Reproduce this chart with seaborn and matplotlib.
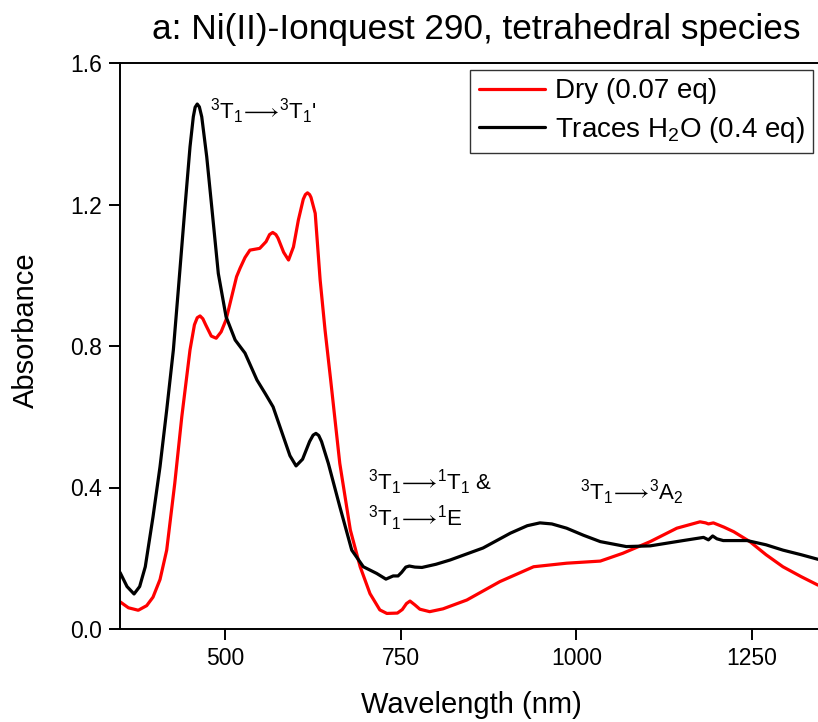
import matplotlib
matplotlib.use("Agg")
import matplotlib.pyplot as plt
import seaborn as sns
import pandas as pd

# ---- data ----
dry_wavelength = [350, 362, 376, 388, 397, 407, 416.5, 428, 438, 449.7, 456, 460, 464, 468, 472,
                  480, 487, 494, 501, 516, 521, 528, 535, 549, 558, 563, 567.5, 572, 575, 583,
                  590, 597, 604, 611, 614, 617, 620, 622, 628, 635, 642, 650, 663, 678, 692,
                  706, 720, 730, 745, 752, 758, 763, 770, 777, 791, 810, 844, 891, 939, 986,
                  1034, 1066, 1105, 1143, 1176, 1184, 1188, 1195, 1210, 1224, 1247, 1270, 1294,
                  1320, 1344]
dry_absorbance = [0.077, 0.060, 0.053, 0.066, 0.090, 0.140, 0.223, 0.412, 0.600, 0.789, 0.860,
                  0.880, 0.885, 0.877, 0.860, 0.828, 0.822, 0.840, 0.874, 0.996, 1.020, 1.050,
                  1.071, 1.076, 1.095, 1.115, 1.121, 1.115, 1.105, 1.065, 1.043, 1.080, 1.156,
                  1.215, 1.228, 1.233, 1.228, 1.220, 1.175, 0.987, 0.845, 0.704, 0.468, 0.280,
                  0.176, 0.100, 0.054, 0.044, 0.045, 0.055, 0.072, 0.079, 0.068, 0.056, 0.049,
                  0.057, 0.082, 0.134, 0.176, 0.186, 0.192, 0.214, 0.247, 0.285, 0.303, 0.300,
                  0.297, 0.300, 0.288, 0.275, 0.247, 0.210, 0.176, 0.148, 0.124]

wet_wavelength = [350, 360, 370, 378, 386, 397, 407, 416.5, 426, 433, 442.6, 449.7, 454.4, 457,
                  460, 463, 466.4, 473.5, 480.6, 490, 501, 514, 528, 545, 557, 568, 582.6, 592,
                  600.7, 610, 620, 625, 629, 633, 637, 646.7, 663, 680, 696.5, 715.6, 728.7, 739,
                  746, 751, 757, 762, 770, 780, 800, 820, 867, 906, 930, 948, 965, 986, 1010,
                  1034, 1071, 1105, 1152, 1181, 1188, 1194, 1200, 1209, 1243, 1270, 1294, 1320,
                  1344]
wet_absorbance = [0.160, 0.120, 0.099, 0.120, 0.176, 0.317, 0.459, 0.619, 0.789, 0.958, 1.194,
                  1.363, 1.448, 1.475, 1.484, 1.476, 1.448, 1.335, 1.194, 1.005, 0.883, 0.817,
                  0.780, 0.704, 0.665, 0.628, 0.544, 0.490, 0.461, 0.480, 0.530, 0.548, 0.553,
                  0.547, 0.530, 0.468, 0.346, 0.223, 0.176, 0.157, 0.141, 0.150, 0.150, 0.160,
                  0.175, 0.178, 0.175, 0.174, 0.183, 0.195, 0.229, 0.271, 0.292, 0.300, 0.297,
                  0.285, 0.265, 0.247, 0.233, 0.235, 0.250, 0.259, 0.252, 0.263, 0.255, 0.250,
                  0.250, 0.238, 0.223, 0.210, 0.197]

series_labels = ["Dry (0.07 eq)", "Traces H$_2$O (0.4 eq)"]
series_colors = ["#ff0000", "#000000"]
x_ticks = [500, 750, 1000, 1250]
y_ticks = [0.0, 0.4, 0.8, 1.2, 1.6]
title_text = "a: Ni(II)-Ionquest 290, tetrahedral species"
annotations = [
    (478, 1.441, r"$^3$T$_1$$\!\longrightarrow\!$$^3$T$_1$'"),
    (703.7, 0.393, r"$^3$T$_1$$\!\longrightarrow\!$$^1$T$_1$ &"),
    (703.7, 0.291, r"$^3$T$_1$$\!\longrightarrow\!$$^1$E"),
    (1005, 0.365, r"$^3$T$_1$$\!\longrightarrow\!$$^3$A$_2$"),
]

df = pd.concat([
    pd.DataFrame({"Wavelength": dry_wavelength, "Absorbance": dry_absorbance, "Series": series_labels[0]}),
    pd.DataFrame({"Wavelength": wet_wavelength, "Absorbance": wet_absorbance, "Series": series_labels[1]}),
], ignore_index=True)

sns.set_theme(style="ticks")
plt.rcParams["font.family"] = ["Liberation Sans", "DejaVu Sans"]
plt.rcParams["mathtext.default"] = "regular"
for key in ["text.color", "axes.labelcolor", "xtick.color", "ytick.color", "axes.edgecolor"]:
    plt.rcParams[key] = "black"

W, H = 818, 722
fig = plt.figure(figsize=(W / 100, H / 100), dpi=100)
ax = fig.add_axes([120 / W, 1 - 629 / H, (818 - 120) / W, (629 - 63) / H])

sns.lineplot(data=df, x="Wavelength", y="Absorbance", hue="Series",
             palette=dict(zip(series_labels, series_colors)), linewidth=2.3,
             ax=ax, legend=True)

ax.set_xlim(350, 1344)
ax.set_ylim(0, 1.6)
ax.set_xticks(x_ticks)
ax.set_yticks(y_ticks)
ax.set_yticklabels([f"{v:.1f}" for v in y_ticks])

for side in ["left", "bottom", "top"]:
    ax.spines[side].set_linewidth(1.4)
    ax.spines[side].set_color("black")
ax.spines["right"].set_visible(False)
ax.tick_params(axis="both", direction="out", length=8, width=1.4, labelsize=16.5,
               colors="black", pad=5)

ax.set_xlabel("Wavelength (nm)", fontsize=21, va="baseline")
ax.xaxis.set_label_coords((471 - 120) / 698, (629 - 713) / 566)
ax.set_ylabel("Absorbance", fontsize=21)
ax.yaxis.set_label_coords((40 - 120) / 698, (629 - 330) / 566)

for x, y, t in annotations:
    ax.text(x, y, t, fontsize=16, ha="left", va="baseline", color="black")

leg = ax.legend(loc="upper right", bbox_to_anchor=(1 - 5 / 698, 1 - 7 / 566),
                borderaxespad=0, fontsize=20, frameon=True, fancybox=False,
                handlelength=2.4, handletextpad=0.35, labelspacing=0.38,
                borderpad=0.3, title=None)
leg.get_frame().set_edgecolor("black")
leg.get_frame().set_linewidth(1.0)
for line in leg.get_lines():
    line.set_linewidth(2.3)

fig.text(476 / W, 1 - 39.3 / H, title_text, fontsize=25.4, ha="center", va="baseline")

fig.savefig("out.png", dpi=100)
